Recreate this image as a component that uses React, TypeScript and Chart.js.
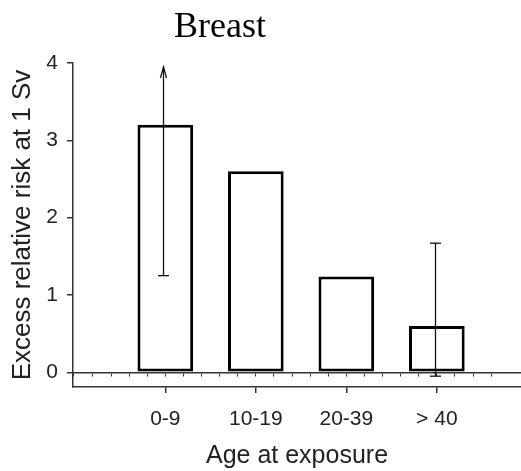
import { useEffect, useRef } from "react";
import { Chart, registerables } from "chart.js";

Chart.register(...registerables);

// ---- data ----
const chartTitle = "Breast";
const categories = ["0-9", "10-19", "20-39", "> 40"];
const positions = [1, 2, 3, 4];
const risk = [3.2, 2.6, 1.24, 0.6];
const errLow: (number | null)[] = [1.25, null, null, -0.05];
const errHigh: (number | null)[] = [3.95, null, null, 1.67];
const upperIsArrow = [true, false, false, false];
const yTicks = [0, 1, 2, 3, 4];
const xTitle = "Age at exposure";
const yTitle = "Excess relative risk at 1 Sv";

const AXIS = "#333";
const SANS = "'Liberation Sans', Arial, sans-serif";

const errorBarPlugin = {
  id: "errorBars",
  afterDatasetsDraw(chart: any) {
    const { ctx } = chart;
    const x = chart.scales.x;
    const y = chart.scales.y;
    ctx.save();
    ctx.strokeStyle = "#111";
    ctx.lineWidth = 1.3;
    positions.forEach((p, i) => {
      const lo = errLow[i];
      const hi = errHigh[i];
      if (lo == null || hi == null) return;
      const px = Math.round(x.getPixelForValue(p)) - 1.5;
      const yl = y.getPixelForValue(lo);
      const yh = y.getPixelForValue(hi);
      ctx.beginPath();
      ctx.moveTo(px, yl);
      ctx.lineTo(px, yh);
      ctx.stroke();
      const cap = 5.5;
      ctx.beginPath();
      ctx.moveTo(px - cap, yl);
      ctx.lineTo(px + cap, yl);
      ctx.stroke();
      if (upperIsArrow[i]) {
        ctx.beginPath();
        ctx.moveTo(px - 3, yh + 11);
        ctx.lineTo(px, yh);
        ctx.lineTo(px + 3, yh + 11);
        ctx.stroke();
      } else {
        ctx.beginPath();
        ctx.moveTo(px - cap, yh);
        ctx.lineTo(px + cap, yh);
        ctx.stroke();
      }
    });
    ctx.restore();
  },
};

const titlePlugin = {
  id: "serifTitle",
  afterDraw(chart: any) {
    const { ctx } = chart;
    ctx.save();
    ctx.font = "36px 'Liberation Serif', 'Times New Roman', serif";
    ctx.fillStyle = "#000";
    ctx.textAlign = "center";
    ctx.textBaseline = "alphabetic";
    ctx.fillText(chartTitle, 220, 37);
    ctx.restore();
  },
};

export default function App() {
  const ref = useRef<HTMLCanvasElement | null>(null);

  useEffect(() => {
    if (!ref.current) return;
    const chart = new Chart(ref.current, {
      type: "bar",
      data: {
        datasets: [
          {
            data: positions.map((p, i) => ({ x: p, y: risk[i] })),
            backgroundColor: "#fff",
            borderColor: "#000",
            borderWidth: 3,
            borderSkipped: false,
            categoryPercentage: 1,
            barPercentage: 0.615,
            xAxisID: "x",
            yAxisID: "y",
          },
        ],
      },
      plugins: [errorBarPlugin, titlePlugin],
      options: {
        animation: false,
        responsive: false,
        devicePixelRatio: 1,
        layout: { padding: { top: 63, right: 0, bottom: 0, left: 0 } },
        plugins: {
          legend: { display: false },
          tooltip: { enabled: false },
          title: { display: false },
        },
        scales: {
          x: {
            type: "linear",
            position: "bottom",
            offset: false,
            min: -0.02,
            max: 4.93,
            afterBuildTicks: (s: any) => {
              s.ticks = positions.map((v) => ({ value: v }));
            },
            afterFit: (s: any) => {
              s.height = 84;
            },
            ticks: {
              callback: (v: any) => {
                const i = positions.indexOf(Number(v));
                return i >= 0 ? categories[i] : "";
              },
              font: { family: SANS, size: 21 },
              color: "#222",
              padding: 14,
              maxRotation: 0,
              autoSkip: false,
            },
            grid: {
              offset: false,
              drawOnChartArea: false,
              drawTicks: true,
              tickLength: 6,
              color: AXIS,
              lineWidth: 1.5,
            },
            border: { display: true, color: AXIS, width: 1.5 },
            title: {
              display: true,
              text: xTitle,
              font: { family: SANS, size: 25 },
              color: "#222",
              padding: { top: 0, bottom: 0 },
            },
          },
          xMinor: {
            type: "linear",
            axis: "x",
            position: { y: 0 },
            offset: false,
            min: -0.02,
            max: 4.93,
            ticks: { display: false, stepSize: 0.2 },
            grid: {
              offset: false,
              drawOnChartArea: false,
              drawTicks: true,
              tickLength: 3,
              color: AXIS,
              lineWidth: 1,
            },
            border: { display: true, color: AXIS, width: 1.5 },
          },
          y: {
            type: "linear",
            position: "left",
            min: -0.19,
            max: 4,
            afterBuildTicks: (s: any) => {
              s.ticks = yTicks.map((v) => ({ value: v }));
            },
            afterFit: (s: any) => {
              s.width = 73;
            },
            ticks: {
              font: { family: SANS, size: 21 },
              color: "#222",
              padding: 9,
            },
            grid: {
              drawOnChartArea: false,
              drawTicks: true,
              tickLength: 6,
              color: AXIS,
              lineWidth: 1.5,
            },
            border: { display: true, color: AXIS, width: 1.5 },
            title: {
              display: true,
              text: yTitle,
              font: { family: SANS, size: 26 },
              color: "#222",
              padding: { top: 7, bottom: 0 },
            },
          },
        },
      } as any,
    });
    return () => chart.destroy();
  }, []);

  return (
    <div style={{ position: "absolute", left: 0, top: 0, width: 521, height: 471, background: "#fff" }}>
      <canvas ref={ref} width={521} height={471} />
    </div>
  );
}
